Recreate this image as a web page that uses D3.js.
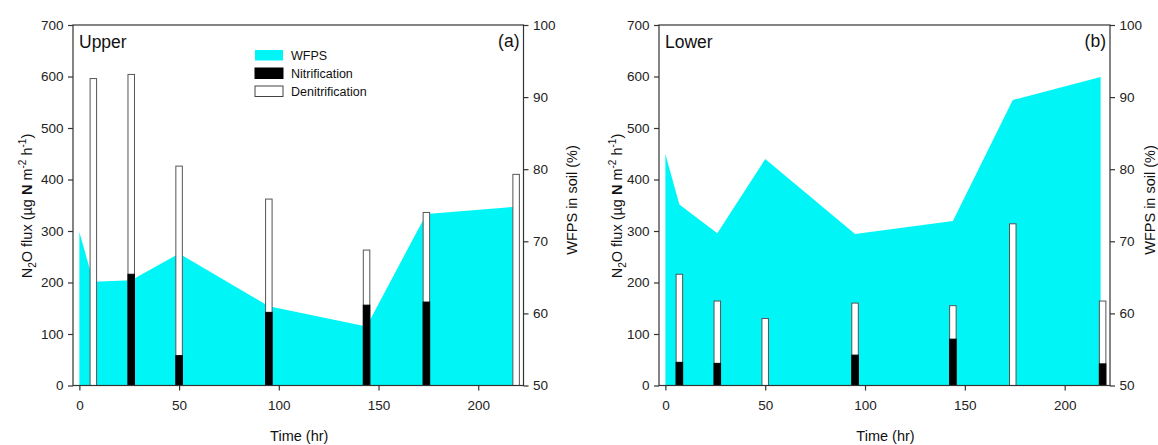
<!DOCTYPE html>
<html>
<head>
<meta charset="utf-8">
<script src="https://cdn.jsdelivr.net/npm/d3@7"></script>
<style>
  html, body { margin: 0; padding: 0; background: #fff; }
  svg { display: block; font-family: "Liberation Sans", Arial, sans-serif; }
</style>
</head>
<body>
<svg id="chart" width="1158" height="445"></svg>
<script>
// ---- data ----
const sampleTimes = [7, 26, 50, 95, 144, 174, 219];
const upperNitrification = [0, 216, 58, 142, 156, 162, 0];
const upperDenitrification = [596, 388, 368, 220, 107, 174, 410];
const lowerNitrification = [45, 43, 0, 59, 90, 0, 42];
const lowerDenitrification = [171, 121, 130, 101, 65, 314, 122];

const upperWfpsTimes = [0, 7, 26, 50, 95, 144, 174, 219];
const upperWfps = [71.3, 64.4, 64.6, 68.3, 61.0, 58.2, 73.8, 74.8];
const lowerWfpsTimes = [0, 7, 26, 50, 95, 144, 174, 218];
const lowerWfps = [82.1, 75.1, 71.1, 81.4, 71.0, 72.8, 89.6, 92.8];

const xTicks = [0, 50, 100, 150, 200];
const fluxTicks = [0, 100, 200, 300, 400, 500, 600, 700];
const wfpsTicks = [50, 60, 70, 80, 90, 100];
const legendLabels = ["WFPS", "Nitrification", "Denitrification"];

// ---- style ----
const CYAN = "#00f6f6";
const AXIS = "#333";
const svg = d3.select("#chart");

const panels = [
  { x0: 73, x1: 523.5, name: "Upper", tag: "(a)", nit: upperNitrification, den: upperDenitrification,
    wt: upperWfpsTimes, w: upperWfps, legend: true, yTitleX: 32, rTitleX: 577 },
  { x0: 659, x1: 1110, name: "Lower", tag: "(b)", nit: lowerNitrification, den: lowerDenitrification,
    wt: lowerWfpsTimes, w: lowerWfps, legend: false, yTitleX: 622, rTitleX: 1155 }
];
const y0 = 25, y1 = 385.5;

panels.forEach(p => {
  const g = svg.append("g");
  const x = d3.scaleLinear().domain([-3.2, 222.7]).range([p.x0, p.x1]);
  const yF = d3.scaleLinear().domain([0, 700]).range([y1, y0]);
  const yW = d3.scaleLinear().domain([50, 100]).range([y1, y0]);

  // WFPS area
  const pts = p.wt.map((t, i) => [t, p.w[i]]);
  g.append("path")
    .datum(pts)
    .attr("fill", CYAN)
    .attr("d", d3.area().x(d => x(d[0])).y0(yW(50)).y1(d => yW(d[1])));

  // bars
  const bw = 6.5;
  const bars = g.append("g");
  sampleTimes.forEach((t, i) => {
    const nit = p.nit[i], tot = p.nit[i] + p.den[i];
    bars.append("rect")
      .attr("x", x(t) - bw / 2).attr("width", bw)
      .attr("y", yF(tot)).attr("height", yF(0) - yF(tot))
      .attr("fill", "#fff").attr("stroke", "#555").attr("stroke-width", 1);
    if (nit > 0) {
      bars.append("rect")
        .attr("x", x(t) - bw / 2).attr("width", bw)
        .attr("y", yF(nit)).attr("height", yF(0) - yF(nit))
        .attr("fill", "#000").attr("stroke", "#000").attr("stroke-width", 1);
    }
  });

  // frame
  g.append("rect")
    .attr("x", p.x0).attr("y", y0)
    .attr("width", p.x1 - p.x0).attr("height", y1 - y0)
    .attr("fill", "none").attr("stroke", AXIS).attr("stroke-width", 1.2);

  const styleAxis = sel => {
    sel.select(".domain").remove();
    sel.selectAll("line").attr("stroke", AXIS).attr("stroke-width", 1.2);
    sel.selectAll("text").attr("fill", "#222").attr("font-size", "13.5px")
      .attr("font-family", "'Liberation Sans', Arial, sans-serif");
  };

  g.append("g").attr("transform", `translate(0,${y1})`)
    .call(d3.axisBottom(x).tickValues(xTicks).tickSize(5).tickPadding(10).tickSizeOuter(0))
    .call(styleAxis);
  g.append("g").attr("transform", `translate(${p.x0},0)`)
    .call(d3.axisLeft(yF).tickValues(fluxTicks).tickSize(5).tickPadding(4.5).tickSizeOuter(0))
    .call(styleAxis);
  g.append("g").attr("transform", `translate(${p.x1},0)`)
    .call(d3.axisRight(yW).tickValues(wfpsTicks).tickSize(5).tickPadding(4.5).tickSizeOuter(0))
    .call(styleAxis);

  // titles
  g.append("text")
    .attr("x", (p.x0 + p.x1) / 2 + 1).attr("y", 441)
    .attr("text-anchor", "middle").attr("font-size", "14.5px").attr("fill", "#111")
    .text("Time (hr)");

  const yt = g.append("text")
    .attr("transform", `translate(${p.yTitleX},206) rotate(-90)`)
    .attr("text-anchor", "middle").attr("font-size", "14.5px").attr("fill", "#111");
  yt.append("tspan").text("N");
  yt.append("tspan").attr("font-size", "10px").attr("dy", 4).text("2");
  yt.append("tspan").attr("dy", -4).text("O flux (µg ");
  yt.append("tspan").attr("font-weight", "bold").text("N");
  yt.append("tspan").text(" m");
  yt.append("tspan").attr("font-size", "10px").attr("dy", -6).text("-2");
  yt.append("tspan").attr("dy", 6).text(" h");
  yt.append("tspan").attr("font-size", "10px").attr("dy", -6).text("-1");
  yt.append("tspan").attr("dy", 6).text(")");

  g.append("text")
    .attr("transform", `translate(${p.rTitleX},200) rotate(-90)`)
    .attr("text-anchor", "middle").attr("font-size", "14.5px").attr("fill", "#111")
    .text("WFPS in soil (%)");

  // panel labels
  g.append("text").attr("x", p.x0 + 6).attr("y", 48)
    .attr("font-size", "17.5px").attr("fill", "#111").text(p.name);
  g.append("text").attr("x", p.x1 - 4).attr("y", 47)
    .attr("text-anchor", "end").attr("font-size", "17.5px").attr("fill", "#111").text(p.tag);

  if (p.legend) {
    const lg = g.append("g").attr("transform", "translate(255,50)");
    const fills = [CYAN, "#000", "#fff"];
    const strokes = ["none", "#000", "#444"];
    legendLabels.forEach((lab, i) => {
      lg.append("rect").attr("x", 0).attr("y", i * 18).attr("width", 28).attr("height", 10.5)
        .attr("fill", fills[i]).attr("stroke", strokes[i]).attr("stroke-width", 1);
      lg.append("text").attr("x", 36).attr("y", i * 18 + 9.5)
        .attr("font-size", "12.5px").attr("fill", "#111").text(lab);
    });
  }
});
</script>
</body>
</html>
